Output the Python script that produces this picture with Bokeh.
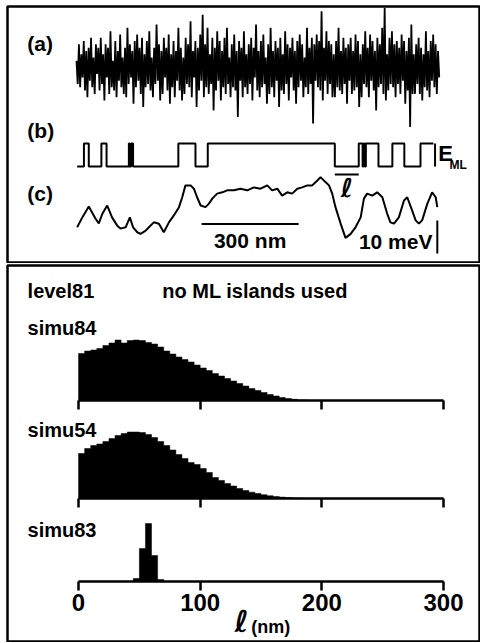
import numpy as np
from bokeh.plotting import figure
from bokeh.models import Range1d, LinearAxis, FixedTicker, Label
from bokeh.layouts import column
from bokeh.embed import file_html
from bokeh.resources import INLINE

FONT = "Liberation Sans"
INK = "black"

# ---------------- top panel data ----------------
# (a) raw signal: deviations (meV) sampled along the 1122 nm profile
noise_a = [2, -5, 7, -6, 4, -3, 8, -7, 5, -9, 6, -4, 9, -6, 3, -8, 7, -2, 6, -7,
           9, -5, 4, -10, 7, -3, 6, -8, 11, -6, 2, -7, 8, -9, 5, -4, 10, -6, 3, -8,
           6, -9, 12, -5, 7, -3, 5, -11, 8, -6, 10, -4, 6, -8, 9, -12, 4, -6, 8, -5,
           11, -7, 3, -9, 6, -5, 13, -4, 7, -10, 5, -8, 9, -3, 6, -7, 10, -11, 4, -6,
           8, -9, 5, -4, 12, -7, 6, -10, 3, -8, 9, -5, 7, -6, 14, -9, 5, -3, 8, -12,
           6, -7, 10, -4, 16, -9, 7, -6, 12, -8, 4, -5, 9, -13, 6, -7, 11, -4, 8, -10,
           5, -6, 9, -8, 12, -5, 3, -9, 7, -6, 10, -7, 5, -15, 8, -4, 6, -9, 11, -6,
           4, -8, 7, -5, 9, -10, 6, -3, 13, -7, 5, -9, 8, -6, 10, -5, 3, -11, 7, -8,
           12, -6, 5, -9, 8, -4, 6, -12, 9, -7, 4, -8, 11, -5, 7, -10, 6, -3, 9, -7,
           5, -11, 8, -6, 10, -4, 7, -9, 3, -6, 12, -8, 6, -5, 9, -17, 7, -4, 10, -6,
           8, -7, 17, -10, 6, -4, 11, -8, 8, -5, 7, -9, 4, -9, 8, -6, 12, -7, 5, -8,
           9, -5, 6, -11, 7, -4, 9, -8, 5, -7, 10, -6, 8, -12, 4, -9, 7, -5, 11, -6,
           6, -9, 10, -4, 8, -7, 5, -13, 9, -6, 7, -5, 12, -8, 18, -10, 4, -7, 9, -5,
           11, -6, 7, -9, 8, -5, 6, -8, 10, -4, 8, -11, 5, -7, 9, -18, 13, -8, 4, -8,
           7, -5, 9, -8, 6, -10, 4, -6, 11, -7, 5, -9, 8, -4, 10, -6, 7, -8, 5, -3]
profile_nm = 1122

# (b) ML-island state: switching positions (nm) and state (0 low / 1 high)
b_edges = [2, 23, 38, 77, 93, 162, 165, 169, 175, 315, 368, 406, 799, 873, 885, 888, 892,
           895, 934, 977, 1014, 1064, 1104]
b_state = [0, 1, 0, 1, 0, 1, 0, 1, 0, 1, 0, 1, 0, 1, 0, 1, 0, 1, 0, 1, 0, 1, 1]
E_ML = 7.0  # meV

# (c) smoothed profile (meV)
c_x = [2, 18, 38, 59, 69, 80, 95, 110, 126, 136, 152, 165, 175, 188, 198, 214, 224, 239, 255, 270,
       286, 301, 317, 327, 337, 353, 363, 373, 384, 399, 409, 420, 435, 451, 466, 487, 507, 528, 549, 569,
       590, 605, 621, 636, 652, 667, 683, 698, 714, 729, 745, 755, 770, 781, 791, 801, 817, 832, 848, 863,
       879, 889, 899, 915, 930, 946, 961, 971, 982, 997, 1013, 1023, 1038, 1049, 1059, 1069, 1085, 1100, 1111, 1116]
c_meV = [4.0, 7.0, 10.3, 6.6, 5.2, 8.1, 10.6, 7.0, 4.5, 3.6, 4.0, 7.0, 4.0, 2.5, 2.0, 3.0, 4.0, 5.5, 5.1, 2.5,
         5.5, 7.6, 10.1, 13.1, 16.7, 16.7, 15.7, 13.1, 10.6, 10.1, 11.1, 12.7, 14.2, 14.6, 15.2, 15.2, 15.7, 15.2, 16.1, 15.7,
         16.7, 15.2, 15.7, 13.6, 14.6, 14.2, 15.7, 16.1, 16.7, 16.7, 18.2, 19.2, 17.7, 16.7, 14.2, 10.1, 5.1, 0.8, 2.0, 4.0,
         7.0, 12.7, 14.2, 13.6, 14.6, 13.1, 8.1, 5.5, 5.1, 7.0, 12.1, 13.1, 9.1, 6.1, 5.1, 6.1, 11.1, 14.6, 13.1, 10.1]

scale_nm = 300
scale_meV = 10

# ---------------- bottom panel data (5 nm bins, a.u.) ----------------
bin_width = 5
n_bins = 60
simu84 = [47, 49.5, 50.5, 52, 55, 57.5, 60.5, 57.5, 60, 60.5, 60, 58, 56.5, 53.5, 49.5, 46.5, 43.5, 41,
          38.5, 35.5, 32.5, 30, 27, 24.5, 22, 19.5, 17, 14.5, 12, 10, 8, 6, 4.5, 3, 2, 1.2, 0.6, 0.3]
simu54 = [45, 50, 53, 54.5, 57, 60, 63, 65, 66.5, 66.5, 66, 64, 61, 57, 53, 48.5, 44, 40, 36, 34,
          30, 26, 21, 18, 15, 12.5, 10, 8, 6.3, 5, 3.8, 2.8, 2, 1.4, 0.9, 0.6, 0.3]
simu83 = [0, 0, 0, 0, 0, 0, 0, 0, 0, 3, 33, 58, 26, 2]
hist_names = ["simu84", "simu54", "simu83"]
tick_vals = [0, 100, 200, 300]


def lab(p, x, y, text, size="21px", align="left", font=FONT, style="bold"):
    p.add_layout(Label(x=x, y=y, text=text, text_font=font, text_font_style=style,
                       text_font_size=size, text_align=align, text_baseline="middle",
                       text_color=INK))


# ---------------- top figure ----------------
top = figure(width=480, height=263, x_range=Range1d(-213.4, 1246.5), y_range=Range1d(0, 77.58),
             x_axis_type=None, y_axis_type=None, output_backend="svg", toolbar_location=None,
             min_border_left=7, min_border_right=1, min_border_top=6, min_border_bottom=1)
top.outline_line_color = INK
top.outline_line_width = 2.5
top.grid.visible = False

A_BASE, B_BASE, C_BASE = 59.1, 29.1, 6.67

xa = np.linspace(0, profile_nm, len(noise_a))
top.line(xa, np.array(noise_a) + A_BASE, line_color=INK, line_width=1.8)

top.step(b_edges, np.array(b_state) * E_ML + B_BASE, mode="after", line_color=INK, line_width=2)
top.segment(x0=[1109], y0=[B_BASE], x1=[1109], y1=[B_BASE + E_ML], line_color=INK, line_width=2)
lab(top, 1119, 33.0, "E", size="22px")
lab(top, 1154, 29.4, "ML", size="12px")

k = 12
top.segment(x0=[b_edges[k]], y0=[26.7], x1=[b_edges[k + 1]], y1=[26.7], line_color=INK, line_width=2)
lab(top, (b_edges[k] + b_edges[k + 1]) / 2, 22.7, "ℓ", size="26px", align="center",
    font="DejaVu Sans", style="bold italic")

top.line(c_x, np.array(c_meV) + C_BASE, line_color=INK, line_width=2)

sx0 = 387
top.segment(x0=[sx0], y0=[11.7], x1=[sx0 + scale_nm], y1=[11.7], line_color=INK, line_width=2)
lab(top, sx0 + scale_nm / 2, 6.67, f"{scale_nm} nm", align="center")
top.segment(x0=[1116], y0=[2.7], x1=[1116], y1=[2.7 + scale_meV], line_color=INK, line_width=2)
lab(top, 1101, 6.4, f"{scale_meV} meV", align="right")

for txt, yy in [("(a)", 66.4), ("(b)", 40.0), ("(c)", 20.9)]:
    lab(top, -152, yy, txt)

# ---------------- bottom figure ----------------
bot = figure(width=480, height=379, x_range=Range1d(-58.4, 329.6), y_range=Range1d(0, 377),
             x_axis_type=None, y_axis_type=None, output_backend="svg", toolbar_location=None,
             min_border_left=7, min_border_right=1, min_border_top=2, min_border_bottom=0)
bot.outline_line_color = INK
bot.outline_line_width = 2.5
bot.grid.visible = False

edges = np.arange(n_bins + 1) * bin_width
bases = [242, 144, 61]
label_y = [314.5, 213, 113]
for name, data, base, ly in zip(hist_names, [simu84, simu54, simu83], bases, label_y):
    h = np.array(data + [0] * (n_bins - len(data)), dtype=float)
    xs = np.concatenate([[edges[0]], np.repeat(edges, 2)[1:-1], [edges[-1]]])
    ys = np.concatenate([[base], np.repeat(base + h, 2), [base]])
    bot.patch(xs, ys, fill_color=INK, line_color=INK, line_width=0.5)
    last = base == bases[-1]
    ax = LinearAxis(fixed_location=base, ticker=FixedTicker(ticks=tick_vals), bounds=(0, 300),
                    axis_line_width=2.5, axis_line_color=INK,
                    major_tick_line_width=2.5, major_tick_line_color=INK,
                    major_tick_out=9, major_tick_in=0, minor_tick_line_color=None,
                    major_label_text_font=FONT, major_label_text_font_style="bold",
                    major_label_text_font_size="24px" if last else "0px",
                    major_label_text_color=INK if last else None,
                    major_label_standoff=3)
    bot.add_layout(ax, "below")
    lab(bot, -41.9, ly, name, size="20px")

lab(bot, -41.9, 352, "level81", size="20px")
lab(bot, 68.8, 352, "no ML islands used", size="20px")
lab(bot, 134, 21, "ℓ", size="30px", align="center", font="DejaVu Sans", style="bold italic")
lab(bot, 142, 16, "(nm)", size="18px")

layout = column(top, bot, spacing=0)
open("out.html", "w").write(file_html(layout, INLINE))
